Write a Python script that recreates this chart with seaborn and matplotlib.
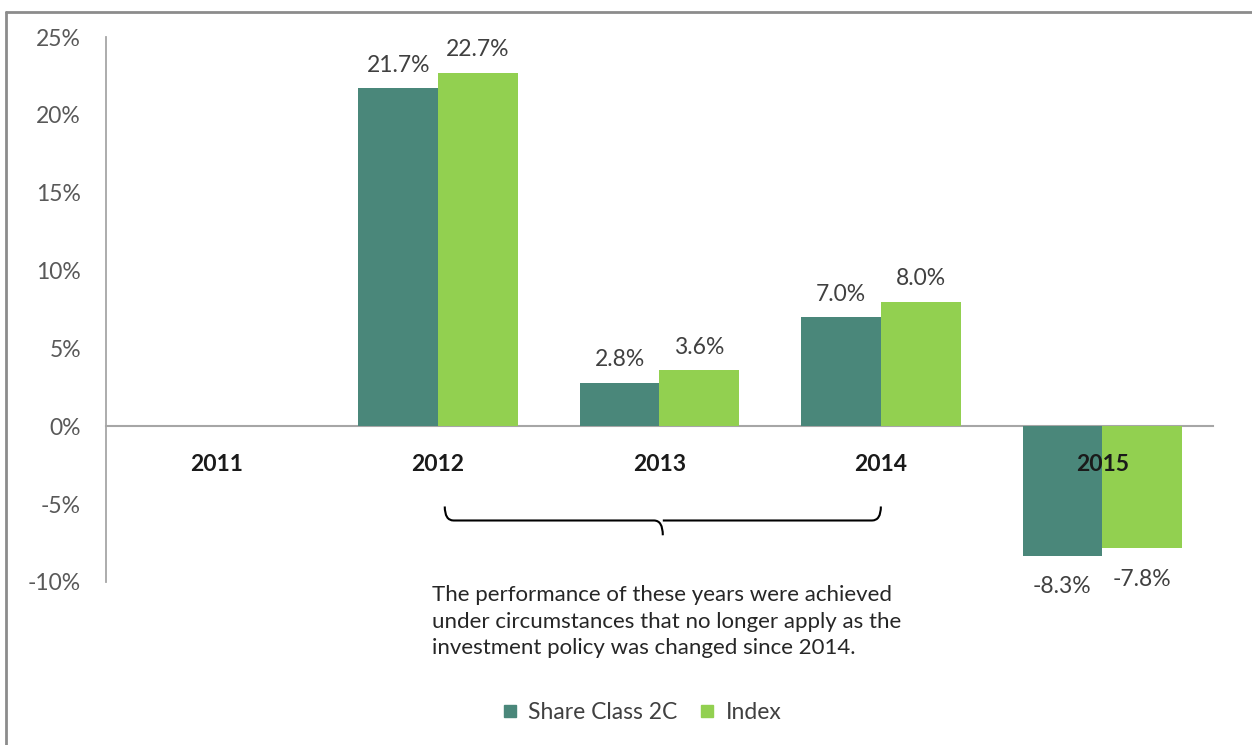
import numpy as np
import pandas as pd
import matplotlib
matplotlib.use("Agg")
import matplotlib.pyplot as plt
from matplotlib.lines import Line2D
from matplotlib.path import Path
from matplotlib.patches import PathPatch
import seaborn as sns

years = ["2011", "2012", "2013", "2014", "2015"]
share_class = [np.nan, 21.7, 2.8, 7.0, -8.3]
index_vals = [np.nan, 22.7, 3.6, 8.0, -7.8]
series_names = ["Share Class 2C", "Index"]
colors = ["#4A877A", "#92D050"]
y_ticks = [-10, -5, 0, 5, 10, 15, 20, 25]
note = ("The performance of these years were achieved\n"
        "under circumstances that no longer apply as the\n"
        "investment policy was changed since 2014.")

df = pd.DataFrame({
    "year": years * 2,
    "value": share_class + index_vals,
    "series": [series_names[0]] * len(years) + [series_names[1]] * len(years),
})

sns.set_theme(style="white")
plt.rcParams["font.family"] = ["Lato", "DejaVu Sans"]

fig = plt.figure(figsize=(12.52, 7.45), dpi=100)
ax = fig.add_axes([0.0847, 0.2188, 0.8841, 0.7315])

sns.barplot(data=df, x="year", y="value", hue="series", order=years,
            hue_order=series_names, palette=colors, width=0.72,
            errorbar=None, saturation=1, ax=ax, legend=False, linewidth=0)

ax.set_axisbelow(False)
ax.set_ylim(-10, 25)
ax.set_xlim(-0.5, len(years) - 0.5)
ax.set_yticks(y_ticks)
ax.set_yticklabels([f"{t}%" for t in y_ticks], fontsize=16.5, color="#595959")
ax.set_xlabel("")
ax.set_ylabel("")

for s in ["top", "right"]:
    ax.spines[s].set_visible(False)
ax.spines["left"].set_color("#A6A6A6")
ax.spines["left"].set_linewidth(1.3)
ax.spines["bottom"].set_position(("data", 0))
ax.spines["bottom"].set_color("#A6A6A6")
ax.spines["bottom"].set_linewidth(1.5)
ax.spines["bottom"].set_zorder(0.5)
ax.tick_params(axis="both", length=0)
ax.tick_params(axis="y", pad=18)
ax.tick_params(axis="x", pad=20)
for lbl in ax.get_xticklabels():
    lbl.set_fontweight("bold")
    lbl.set_fontsize(16.5)
    lbl.set_color("#1A1A1A")

for cont in ax.containers:
    vals = cont.datavalues
    labels = ["" if np.isnan(v) else f"{v:.1f}%" for v in vals]
    ax.bar_label(cont, labels=[l if (not np.isnan(v) and v >= 0) else "" for l, v in zip(labels, vals)],
                 padding=9, fontsize=16.5, color="#404040")
    ax.bar_label(cont, labels=[l if (not np.isnan(v) and v < 0) else "" for l, v in zip(labels, vals)],
                 padding=15, fontsize=16.5, color="#404040")

# bracket under 2012-2014
x0, x1 = 1.03, 3.0
xm = (x0 + x1) / 2
yh, ye, yt = -6.05, -5.15, -7.0
c = 0.04
verts = [(x0, ye), (x0, yh), (x0 + c, yh), (xm - c, yh), (xm, yh), (xm, yt),
         (xm, yh), (xm + c, yh), (x1 - c, yh), (x1, yh), (x1, ye)]
codes = [Path.MOVETO, Path.CURVE3, Path.CURVE3, Path.LINETO, Path.CURVE3, Path.CURVE3,
         Path.MOVETO, Path.CURVE3, Path.LINETO, Path.CURVE3, Path.CURVE3]
ax.add_patch(PathPatch(Path(verts, codes), fill=False, lw=1.5, ec="#000000", clip_on=False))

fig.text(432 / 1252, 1 - 585 / 745, note, ha="left", va="top", fontsize=16,
         color="#262626", linespacing=1.42)

handles = [Line2D([], [], marker="s", ls="", color=c_, markersize=8) for c_ in colors]
fig.legend(handles, series_names, loc="center", bbox_to_anchor=(0.511, 0.043),
           ncol=2, frameon=False, fontsize=16.5, handlelength=1.0, handletextpad=0.3,
           columnspacing=0.8, labelcolor="#404040")

# outer frame (top and left edges)
fig.add_artist(Line2D([6 / 1252, 6 / 1252], [0, 1 - 12 / 745], transform=fig.transFigure,
                      color="#8C8C8C", lw=2))
fig.add_artist(Line2D([6 / 1252, 1], [1 - 12 / 745, 1 - 12 / 745], transform=fig.transFigure,
                      color="#8C8C8C", lw=2))

fig.savefig("out.png", dpi=100, facecolor="white")
